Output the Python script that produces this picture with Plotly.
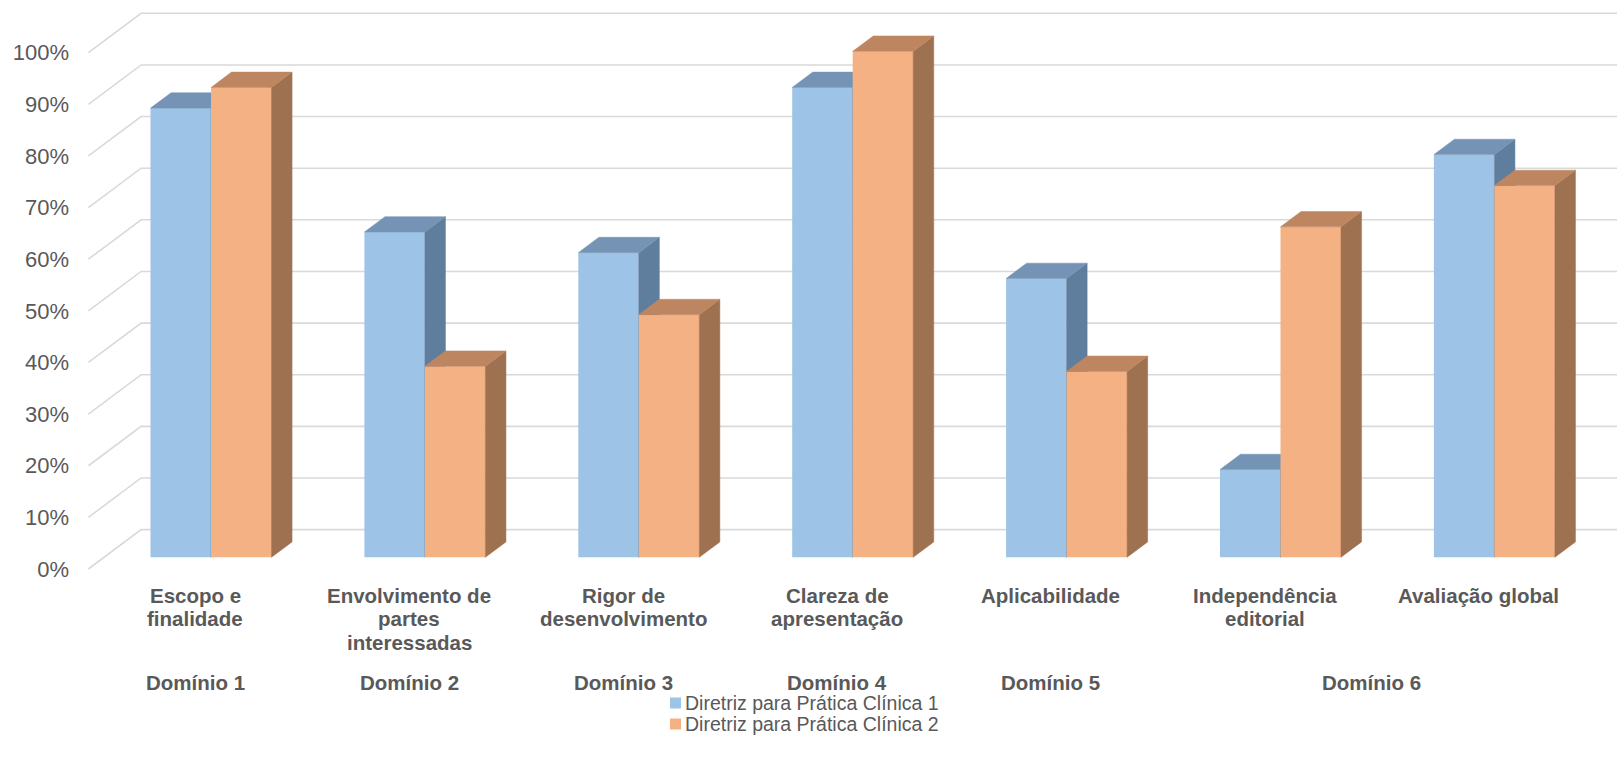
import plotly.graph_objects as go

# ---------------- data ----------------
categories = ["Escopo e<br>finalidade", "Envolvimento de<br>partes<br>interessadas",
              "Rigor de<br>desenvolvimento", "Clareza de<br>apresentação",
              "Aplicabilidade", "Independência<br>editorial", "Avaliação global"]
domains = ["Domínio 1", "Domínio 2", "Domínio 3", "Domínio 4", "Domínio 5", "Domínio 6"]
domain_categories = [[0], [1], [2], [3], [4], [5, 6]]
series_names = ["Diretriz para Prática Clínica 1", "Diretriz para Prática Clínica 2"]
dpc1 = [87, 63, 59, 91, 54, 17, 78]
dpc2 = [91, 37, 47, 98, 36, 64, 72]
y_ticks = [0, 10, 20, 30, 40, 50, 60, 70, 80, 90, 100]
y_tick_labels = [f"{v}%" for v in y_ticks]

# ---------------- styles / geometry ----------------
W_PX, H_PX = 1617, 758
CAT0_PX = 211.0          # pixel x of first category centre (bar plane)
CAT_STEP_PX = 213.9      # pixel distance between categories
PX_PER_PCT = 5.163       # pixels per 1 %
BAR0_Y_PX = 557.3        # pixel y of 0 % in bar plane
DEPTH_DX_PX, DEPTH_DY_PX = 52.7, 39.4   # full floor depth projection
FRONT_D, BACK_D, BAR_D = -0.297, 0.703, 0.39
BAR_W = 60.5 / CAT_STEP_PX

DX = DEPTH_DX_PX / CAT_STEP_PX
DY = DEPTH_DY_PX / PX_PER_PCT
FRONT0_Y_PX = BAR0_Y_PX - FRONT_D * DEPTH_DY_PX

x_range = [(0 - CAT0_PX) / CAT_STEP_PX, (W_PX - CAT0_PX) / CAT_STEP_PX]
y_range_bar = [(BAR0_Y_PX - H_PX) / PX_PER_PCT, BAR0_Y_PX / PX_PER_PCT]
y_range_front = [(FRONT0_Y_PX - H_PX) / PX_PER_PCT, FRONT0_Y_PX / PX_PER_PCT]

FONT = "Liberation Sans, Arial, sans-serif"
TXT = "#595959"
GRID = "#D9D9D9"
colors = [
    dict(front="#9DC3E6", top="#7594B5", side="#5F7E9E"),
    dict(front="#F4B183", top="#BE8660", side="#9E7150"),
]

fig = go.Figure()

# ---------------- gridlines (front-plane frame, axis y) ----------------
n = len(categories)
gx, gy = [], []
for v in y_ticks:
    gx += [-0.5 + FRONT_D * DX, -0.5 + BACK_D * DX, n - 0.5 + BACK_D * DX, None]
    gy += [v, v + (BACK_D - FRONT_D) * DY, v + (BACK_D - FRONT_D) * DY, None]
fig.add_trace(go.Scatter(x=gx, y=gy, mode="lines", line=dict(color=GRID, width=1.6),
                         hoverinfo="skip", showlegend=False, xaxis="x", yaxis="y"))

# ---------------- 3-D bars ----------------
for s, (vals, name) in enumerate(zip([dpc1, dpc2], series_names)):
    yax = "y2" if s == 0 else "y3"
    c = colors[s]
    offset = -BAR_W if s == 0 else 0.0
    fig.add_trace(go.Bar(x=list(range(n)), y=vals, width=BAR_W, offset=offset,
                         marker=dict(color=c["front"], line=dict(width=0)),
                         name=name, showlegend=False, xaxis="x", yaxis=yax,
                         hovertemplate="%{y}%<extra>" + name + "</extra>"))
    tx, ty, sx, sy = [], [], [], []
    for i, v in enumerate(vals):
        xl = i + offset
        xr = xl + BAR_W
        ddx, ddy = BAR_D * DX, BAR_D * DY
        tx += [xl, xr, xr + ddx, xl + ddx, xl, None]
        ty += [v, v, v + ddy, v + ddy, v, None]
        sx += [xr, xr, xr + ddx, xr + ddx, xr, None]
        sy += [0, v, v + ddy, ddy, 0, None]
    fig.add_trace(go.Scatter(x=sx, y=sy, mode="lines", fill="toself", fillcolor=c["side"],
                             line=dict(color=c["side"], width=0.5), hoverinfo="skip",
                             showlegend=False, xaxis="x", yaxis=yax))
    fig.add_trace(go.Scatter(x=tx, y=ty, mode="lines", fill="toself", fillcolor=c["top"],
                             line=dict(color=c["top"], width=0.5), hoverinfo="skip",
                             showlegend=False, xaxis="x", yaxis=yax))

# ---------------- category / domain labels ----------------
annotations = []
LABEL_Y0, LABEL_DY, DOMAIN_Y = 595, 23.7, 682
for i, lab in enumerate(categories):
    for k, line in enumerate(lab.split("<br>")):
        annotations.append(dict(x=i + FRONT_D * DX, xref="x", y=1 - (LABEL_Y0 + k * LABEL_DY) / H_PX,
                                yref="paper", text=f"<b>{line}</b>", showarrow=False,
                                xanchor="center", yanchor="middle",
                                font=dict(family=FONT, size=20.5, color=TXT)))
for d, cats in zip(domains, domain_categories):
    xc = sum(cats) / len(cats) + FRONT_D * DX
    annotations.append(dict(x=xc, xref="x", y=1 - DOMAIN_Y / H_PX, yref="paper",
                            text=f"<b>{d}</b>", showarrow=False, xanchor="center",
                            yanchor="middle", font=dict(family=FONT, size=20.5, color=TXT)))

# ---------------- legend (manual) ----------------
shapes = []
LEG_X, LEG_SQ, LEG_Y = 670, 11, [703, 724]
for s, name in enumerate(series_names):
    yc = LEG_Y[s]
    shapes.append(dict(type="rect", xref="paper", yref="paper",
                       x0=LEG_X / W_PX, x1=(LEG_X + LEG_SQ) / W_PX,
                       y0=1 - (yc + LEG_SQ / 2) / H_PX, y1=1 - (yc - LEG_SQ / 2) / H_PX,
                       fillcolor=colors[s]["front"], line=dict(width=0)))
    annotations.append(dict(x=(LEG_X + LEG_SQ + 2) / W_PX, xref="paper", y=1 - yc / H_PX,
                            yref="paper", text=name, showarrow=False, xanchor="left",
                            yanchor="middle", font=dict(family=FONT, size=19.5, color=TXT)))

fig.update_layout(
    width=W_PX, height=H_PX, autosize=False,
    margin=dict(l=0, r=0, t=0, b=0, pad=0),
    paper_bgcolor="white", plot_bgcolor="white",
    showlegend=False, barmode="overlay",
    font=dict(family=FONT, color=TXT),
    xaxis=dict(range=x_range, visible=False, fixedrange=True),
    yaxis=dict(range=y_range_front, anchor="free", position=69 / W_PX,
               tickvals=y_ticks, ticktext=y_tick_labels, showgrid=False, zeroline=False,
               showline=False, ticks="", tickfont=dict(family=FONT, size=22, color=TXT),
               fixedrange=True),
    yaxis2=dict(range=y_range_bar, overlaying="y", anchor="x", visible=False, fixedrange=True),
    yaxis3=dict(range=y_range_bar, overlaying="y", anchor="x", visible=False, fixedrange=True),
    annotations=annotations, shapes=shapes,
)

fig.write_html("out.html")
